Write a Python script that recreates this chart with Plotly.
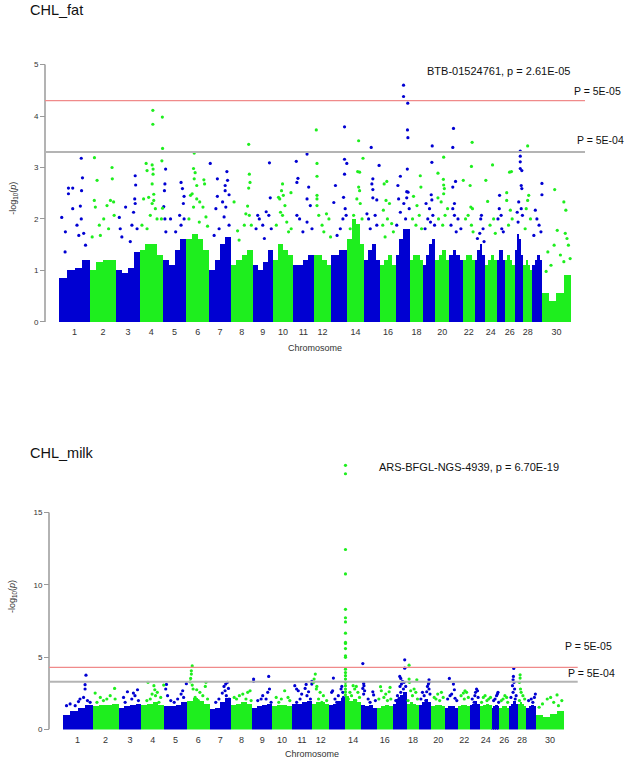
import plotly.graph_objects as go

# ---------------- data ----------------
CHROMS = list(range(1, 31))
CHROM_LEN_MB = [158, 137, 121, 120, 121, 119, 112, 113, 105, 104, 107, 91, 84, 84, 85,
                81, 75, 66, 64, 72, 71, 61, 52, 62, 42, 51, 45, 46, 51, 148]
LABELLED_CHROMS = [1, 2, 3, 4, 5, 6, 7, 8, 9, 10, 11, 12, 14, 16, 18, 20, 22, 24, 26, 28, 30]

# dense cloud height (-log10 p) in 4 equal segments of each chromosome
FAT_BLOCK = [
    [0.85, 1.0, 1.05, 1.2], [1.0, 1.15, 1.2, 1.2], [1.0, 0.95, 1.05, 1.35], [1.4, 1.5, 1.5, 1.3],
    [1.2, 1.1, 1.4, 1.6], [1.6, 1.7, 1.6, 1.4], [1.0, 1.2, 1.5, 1.65], [1.1, 1.2, 1.3, 1.4],
    [1.1, 1.0, 1.15, 1.4], [1.2, 1.5, 1.4, 1.3], [1.1, 1.1, 1.2, 1.3], [1.3, 1.3, 1.2, 1.1],
    [1.3, 1.3, 1.4, 1.4], [1.6, 2.0, 1.9, 1.5], [1.2, 1.4, 1.5, 1.2], [1.1, 1.2, 1.3, 1.1],
    [1.3, 1.6, 1.8, 1.8], [1.2, 1.3, 1.3, 1.2], [1.1, 1.3, 1.5, 1.6], [1.2, 1.3, 1.4, 1.2],
    [1.3, 1.4, 1.3, 1.2], [1.2, 1.3, 1.3, 1.2], [1.2, 1.4, 1.5, 1.3], [1.1, 1.2, 1.3, 1.2],
    [1.2, 1.4, 1.4, 1.2], [1.2, 1.3, 1.2, 1.1], [1.4, 1.7, 1.6, 1.3], [1.1, 1.2, 1.1, 1.0],
    [1.1, 1.2, 1.3, 1.2], [0.55, 0.4, 0.55, 0.9],
]
# individual SNPs above the cloud: (relative position in chromosome, -log10 p)
FAT_PEAKS = [
    [(.08, 2.03), (.2, 1.75), (.19, 1.36), (.3, 2.49), (.3, 2.6), (.44, 2.6), (.44, 2.2), (.58, 1.88), (.69, 2.25),
     (.72, 3.18), (.76, 2.8), (.73, 2.55), (.72, 2.0), (.8, 1.72), (.64, 1.68), (.86, 1.49)],
    [(.175, 3.19), (.275, 2.75), (.17, 2.36), (.21, 2.23), (.36, 1.88), (.525, 2.0), (.65, 2.26), (.84, 3.0),
     (.85, 2.78), (.78, 2.36), (.9, 2.33), (.92, 2.07), (.71, 1.81), (.4, 1.68), (.09, 1.65)],
    [(.4, 2.23), (.13, 2.03), (.24, 1.65), (.17, 1.81), (.81, 2.84), (.83, 2.66), (.79, 2.39), (.81, 2.3),
     (.74, 2.13), (.67, 1.88), (.89, 1.81), (.6, 1.56)],
    [(.57, 4.11), (.98, 3.98), (.57, 3.84), (.99, 3.37), (.96, 3.13), (.99, 2.21), (.94, 2.0), (.28, 3.08),
     (.32, 2.94), (.54, 3.05), (.58, 2.97), (.58, 2.87), (.54, 2.68), (.39, 2.42), (.17, 2.39), (.61, 2.36),
     (.54, 2.3), (.68, 2.2), (.46, 2.07), (.75, 2.0), (.1, 1.88), (.32, 1.81), (.61, 2.48)],
    [(.12, 2.97), (.09, 2.68), (.07, 2.55), (.04, 2.24), (.09, 2.0), (.13, 1.75), (.78, 2.71), (.84, 2.59),
     (.91, 2.44), (.88, 2.3), (.72, 2.07), (.91, 2.0), (.78, 1.88), (.55, 1.75), (.33, 2.0)],
    [(.35, 3.28), (.32, 2.98), (.39, 2.9), (.77, 2.76), (.8, 2.68), (.26, 2.49), (.19, 2.46), (.46, 2.39),
     (.32, 2.23), (.59, 2.33), (.73, 2.23), (.86, 2.04), (.12, 2.0), (.57, 1.94), (.46, 2.65), (.35, 2.78),
     (.93, 1.86)],
    [(.05, 3.08), (.82, 2.92), (.85, 2.75), (.38, 2.78), (.38, 2.44), (.74, 2.65), (.74, 2.55), (.92, 2.47),
     (.62, 2.33), (.77, 2.23), (.31, 2.2), (.69, 2.04), (.92, 1.88), (.46, 1.81), (.23, 1.68)],
    [(.82, 3.45), (.85, 2.87), (.82, 2.6), (.88, 2.71), (.77, 2.25), (.69, 2.1), (.85, 2.07), (.31, 1.77),
     (.38, 1.59), (.62, 1.88), (.15, 2.33), (.94, 1.88)],
    [(.83, 3.09), (.87, 2.41), (.67, 2.14), (.8, 2.07), (.25, 2.07), (.33, 2.0), (.5, 1.88), (.17, 1.81),
     (.92, 1.81), (.58, 1.62)],
    [(.48, 2.68), (.43, 2.55), (.28, 2.42), (.34, 2.39), (.52, 2.46), (.6, 2.26), (.38, 2.13), (.48, 2.07),
     (.17, 1.88), (.69, 1.94), (.9, 2.51), (.78, 1.75), (.91, 1.81)],
    [(.68, 3.26), (.16, 3.12), (.24, 2.79), (.19, 2.71), (.76, 2.62), (.19, 2.07), (.32, 2.0), (.68, 2.39),
     (.84, 2.26), (.68, 1.94), (.92, 1.81), (.48, 1.75)],
    [(.15, 3.73), (.19, 3.08), (.19, 2.83), (.19, 2.46), (.19, 2.39), (.19, 2.26), (.29, 2.07), (.48, 1.88),
     (.73, 2.1), (.87, 2.0), (.58, 1.75), (.96, 1.65)],
    [(.82, 3.79), (.82, 3.16), (.96, 3.08), (.82, 2.87), (.26, 2.65), (.16, 2.32), (.76, 2.42), (.86, 2.2),
     (.72, 2.0), (.56, 1.81), (.36, 1.68), (.92, 2.07)],
    [(.69, 3.52), (.96, 3.18), (.63, 2.92), (.75, 2.91), (.69, 2.62), (.75, 2.55), (.58, 2.39), (.79, 2.3),
     (.38, 2.07), (.9, 2.0), (.17, 1.81)],
    [(.46, 3.39), (.94, 3.04), (.56, 2.78), (.56, 2.57), (.56, 2.41), (.8, 2.37), (.5, 2.68), (.2, 2.1),
     (.3, 2.0), (.7, 2.07), (.8, 1.88), (.4, 1.81)],
    [(.43, 2.73), (.26, 2.68), (.38, 2.36), (.6, 2.3), (.21, 2.17), (.47, 2.0), (.17, 1.88), (.74, 1.91),
     (.85, 1.75), (.32, 1.65)],
    [(.54, 4.6), (.54, 4.38), (.83, 4.25), (.81, 3.73), (.84, 3.58), (.8, 2.97), (.32, 2.83), (.15, 2.65),
     (.76, 2.53), (.85, 2.52), (.76, 2.41), (.2, 2.39), (.56, 2.3), (.32, 2.13), (.93, 2.2), (.68, 2.0),
     (.07, 1.88)],
    [(.79, 2.84), (.84, 2.62), (.26, 2.44), (.53, 2.26), (.71, 2.07), (.18, 2.0), (.45, 1.88), (.89, 1.81)],
    [(.75, 3.42), (.72, 3.1), (.67, 2.47), (.72, 2.37), (.25, 2.3), (.53, 2.2), (.8, 2.07), (.61, 1.94),
     (.39, 2.0), (.17, 1.81), (.94, 1.88)],
    [(.6, 3.2), (.19, 2.89), (.58, 2.77), (.6, 2.66), (.65, 2.59), (.6, 2.49), (.19, 2.41), (.42, 2.33),
     (.88, 2.2), (.7, 2.07), (.23, 2.0), (.53, 1.88)],
    [(.31, 3.76), (.26, 3.39), (.26, 2.62), (.46, 2.73), (.38, 2.3), (.26, 2.2), (.38, 2.07), (.64, 2.0),
     (.13, 1.88), (.85, 1.81), (.51, 1.75)],
    [(.78, 3.49), (.72, 3.02), (.03, 2.75), (.61, 2.65), (.67, 2.23), (.81, 2.2), (.44, 2.07), (.22, 2.0),
     (.72, 1.88), (.86, 1.75)],
    [(.67, 2.07), (.6, 2.0), (.83, 1.81), (.5, 1.72), (.27, 1.62), (.93, 1.56)],
    [(.65, 3.05), (.09, 2.75), (.24, 2.34), (.44, 1.88), (.74, 2.0), (.88, 1.72)],
    [(.35, 2.46), (.31, 2.2), (.54, 2.07), (.62, 1.81), (.81, 1.75), (.15, 2.0)],
    [(.67, 2.92), (.48, 2.91), (.19, 2.51), (.19, 2.36), (.56, 2.17), (.74, 2.0), (.37, 1.88)],
    [(.64, 3.32), (.64, 3.22), (.64, 3.11), (.64, 2.98), (.82, 2.94), (.75, 2.65), (.82, 2.59), (.46, 2.33),
     (.75, 2.2), (.29, 2.13), (.89, 2.07), (.39, 1.94)],
    [(.48, 3.42), (.6, 2.46), (.48, 2.36), (.32, 2.2), (.8, 2.0), (.2, 1.81)],
    [(.98, 2.69), (.98, 2.47), (.31, 2.17), (.47, 2.0), (.69, 1.88), (.88, 1.75), (.16, 1.68)],
    [(.44, 2.57), (.76, 2.33), (.83, 2.17), (.53, 1.78), (.81, 1.72), (.87, 1.62), (.92, 1.49), (.2, 1.36),
     (.42, 1.49), (.64, 1.3), (.31, 1.1), (.98, 1.23), (.14, 0.98), (.76, 1.17)],
]

MILK_BLOCK = [
    [1.0, 1.3, 1.5, 1.7], [1.6, 1.7, 1.7, 1.8], [1.5, 1.6, 1.7, 1.8], [1.7, 1.8, 1.9, 1.7],
    [1.6, 1.6, 1.7, 1.9], [2.0, 2.2, 2.0, 1.8], [1.4, 1.5, 1.9, 2.2], [1.7, 1.8, 1.9, 1.8],
    [1.5, 1.6, 1.7, 1.8], [1.6, 1.7, 1.7, 1.6], [1.8, 1.8, 1.9, 2.0], [1.8, 1.9, 1.9, 1.8],
    [1.7, 1.8, 2.0, 2.2], [2.3, 2.0, 2.1, 1.9], [1.7, 1.6, 1.7, 1.5], [1.5, 1.6, 1.7, 1.6],
    [1.8, 2.1, 2.4, 2.6], [1.8, 1.9, 1.8, 1.7], [1.7, 1.9, 2.1, 1.9], [1.6, 1.7, 1.7, 1.6],
    [1.5, 1.6, 1.6, 1.5], [1.6, 1.7, 1.7, 1.6], [1.7, 1.8, 2.0, 1.8], [1.6, 1.7, 1.8, 1.7],
    [1.5, 1.6, 1.7, 1.6], [1.5, 1.6, 1.6, 1.5], [1.6, 1.8, 2.0, 1.8], [1.8, 1.9, 1.8, 1.6],
    [1.5, 1.6, 1.7, 1.6], [1.0, 0.9, 1.1, 1.3],
]
MILK_PEAKS = [
    [(.78, 3.76), (.75, 3.1), (.75, 2.8), (.7, 2.22), (.58, 2.11), (.83, 2.0), (.53, 1.93), (.25, 1.77),
     (.42, 1.65), (.92, 1.88), (.13, 1.65)],
    [(.85, 2.84), (.1, 2.52), (.68, 2.34), (.55, 2.11), (.3, 2.22), (.87, 2.11), (.42, 2.0), (.17, 1.88)],
    [(.39, 2.61), (.83, 2.75), (.65, 2.52), (.72, 2.34), (.58, 2.11), (.22, 2.22), (.29, 1.88), (.87, 2.0)],
    [(.29, 3.26), (.98, 3.07), (.55, 3.03), (.59, 2.75), (.7, 2.57), (.47, 2.45), (.62, 2.34), (.39, 2.11),
     (.85, 2.22), (.24, 2.0), (.77, 1.88)],
    [(.1, 3.12), (.07, 2.8), (.97, 3.17), (.81, 2.68), (.74, 2.45), (.85, 2.22), (.59, 2.11), (.15, 2.34),
     (.29, 2.0), (.44, 1.88)],
    [(.23, 4.4), (.19, 4.06), (.19, 3.83), (.16, 3.53), (.14, 3.3), (.23, 3.07), (.27, 2.8), (.84, 3.26),
     (.81, 2.98), (.43, 2.75), (.57, 2.57), (.7, 2.34), (.36, 2.22), (.91, 2.11), (.5, 2.0)],
    [(.84, 3.26), (.76, 3.14), (.68, 2.98), (.89, 2.84), (.73, 2.68), (.6, 2.52), (.79, 2.34), (.44, 2.11),
     (.92, 2.11), (.29, 1.88)],
    [(.9, 2.68), (.79, 2.57), (.56, 2.45), (.4, 2.34), (.16, 2.22), (.71, 2.11), (.27, 2.11), (.95, 2.0)],
    [(.07, 3.49), (.07, 3.33), (.83, 3.67), (.87, 2.8), (.78, 2.57), (.53, 2.34), (.45, 2.11), (.7, 2.11),
     (.28, 2.0), (.95, 1.88)],
    [(.64, 2.68), (.21, 2.22), (.47, 2.11), (.81, 2.22), (.9, 2.0), (.34, 1.88)],
    [(.15, 3.03), (.24, 2.8), (.32, 2.68), (.71, 3.12), (.66, 2.84), (.83, 2.61), (.49, 2.45), (.75, 2.34),
     (.41, 2.11), (.92, 2.11), (.24, 1.88), (.99, 3.33), (.99, 3.14)],
    [(.19, 3.83), (.09, 3.26), (.28, 2.98), (.25, 2.8), (.47, 2.57), (.66, 2.34), (.38, 2.11), (.85, 2.0),
     (.57, 1.88), (.12, 3.49)],
    [(.26, 3.56), (.21, 2.68), (.15, 2.57), (.79, 2.98), (.74, 2.8), (.85, 2.57), (.57, 2.34), (.36, 2.11),
     (.89, 2.22), (.47, 1.88)],
    [(.02, 18.27), (.02, 17.69), (.02, 12.45), (.02, 10.76), (.02, 8.31), (.02, 7.73), (.02, 7.44),
     (.02, 6.66), (.02, 6.02), (.02, 5.95), (.02, 5.6), (.02, 5.1), (.02, 4.99), (.02, 4.17), (.02, 3.94),
     (.02, 3.72), (.02, 3.49), (.02, 3.26), (.02, 3.03), (.02, 2.8), (.02, 2.6), (.02, 2.4),
     (.5, 3.03), (.7, 2.98), (.6, 2.8), (.3, 2.57), (.8, 2.57), (.4, 2.34), (.9, 2.22), (.2, 2.11),
     (.66, 2.0)],
    [(.11, 4.56), (.16, 3.19), (.18, 3.03), (.11, 2.84), (.22, 2.68), (.16, 2.45), (.73, 2.61), (.78, 2.39),
     (.44, 2.11), (.89, 2.0), (.56, 1.88)],
    [(.22, 2.96), (.27, 2.68), (.84, 2.91), (.78, 2.61), (.56, 2.45), (.44, 2.22), (.11, 2.11), (.89, 2.11),
     (.67, 2.0)],
    [(.86, 4.82), (.86, 4.24), (.51, 3.67), (.58, 3.53), (.7, 3.33), (.63, 3.14), (.81, 3.26), (.53, 2.98),
     (.93, 2.98), (.77, 2.8), (.58, 2.57), (.35, 2.34), (.47, 2.16), (.23, 2.0)],
    [(.19, 4.45), (.19, 3.49), (.22, 3.26), (.81, 3.44), (.59, 2.8), (.32, 2.68), (.73, 2.57), (.46, 2.34),
     (.86, 2.11), (.11, 2.0)],
    [(.81, 3.44), (.81, 3.26), (.76, 3.14), (.68, 2.98), (.81, 2.8), (.62, 2.61), (.27, 2.57), (.41, 2.34),
     (.89, 2.45), (.14, 2.11), (.54, 2.0)],
    [(.74, 2.57), (.47, 2.45), (.21, 2.22), (.87, 2.22), (.34, 2.11), (.61, 2.0)],
    [(.33, 3.53), (.63, 3.14), (.7, 2.75), (.5, 2.45), (.38, 2.34), (.75, 2.16), (.2, 2.11), (.88, 2.0)],
    [(.57, 2.68), (.71, 2.57), (.43, 2.52), (.23, 2.34), (.86, 2.22), (.51, 2.11)],
    [(.67, 2.8), (.77, 2.68), (.57, 2.57), (.5, 2.34), (.83, 2.22), (.23, 2.11), (.43, 1.88)],
    [(.45, 2.34), (.3, 2.22), (.76, 2.11), (.61, 2.0), (.15, 1.88), (.91, 2.22)],
    [(.81, 2.57), (.74, 2.45), (.63, 2.34), (.44, 2.11), (.26, 2.0), (.89, 1.88)],
    [(.56, 2.34), (.37, 2.11), (.74, 2.22), (.19, 2.0), (.85, 1.88)],
    [(.54, 4.22), (.5, 3.67), (.46, 3.44), (.57, 3.26), (.39, 3.03), (.64, 2.8), (.46, 2.57), (.82, 2.34),
     (.21, 2.22), (.71, 2.11)],
    [(.28, 3.78), (.28, 3.56), (.2, 3.26), (.32, 2.8), (.4, 2.57), (.6, 2.34), (.8, 2.11), (.2, 2.0)],
    [(.93, 2.45), (.83, 2.22), (.5, 2.11), (.23, 2.0), (.67, 1.88)],
    [(.75, 2.39), (.52, 2.22), (.4, 2.11), (.92, 2.0), (.63, 1.88), (.23, 1.77), (.8, 1.65), (.11, 1.54)],
]

SIG_SUGGESTIVE = 3.3   # P = 5E-04
SIG_STRONG = 4.3       # P = 5E-05
FAT_Y_MAX = 5
MILK_Y_MAX = 15

BLUE = "#0000D2"
GREEN = "#1EEE1E"

# ---------------- figure ----------------
W, H = 625, 765
starts = []
acc = 0
for L in CHROM_LEN_MB:
    starts.append(acc)
    acc += L
TOTAL = acc
centers = [s + L / 2 for s, L in zip(starts, CHROM_LEN_MB)]
tick_vals = [centers[c - 1] for c in LABELLED_CHROMS]
tick_text = [str(c) for c in LABELLED_CHROMS]


def px(x):
    return x / W


def py(y):
    return 1 - y / H


fig = go.Figure()


def add_panel(block, peaks, xa, ya):
    for col_idx, color in ((0, BLUE), (1, GREEN)):
        bx, by, bw, sx, sy = [], [], [], [], []
        for i, c in enumerate(CHROMS):
            if i % 2 != col_idx:
                continue
            s, L = starts[i], CHROM_LEN_MB[i]
            n = len(block[i])
            for k, h in enumerate(block[i]):
                bx.append(s + (k + 0.5) * L / n)
                by.append(h)
                bw.append(L / n)
            for rel, v in peaks[i]:
                sx.append(s + rel * L)
                sy.append(v)
        fig.add_trace(go.Bar(x=bx, y=by, width=bw, marker=dict(color=color, line=dict(width=0)),
                             xaxis=xa, yaxis=ya, showlegend=False, hoverinfo="skip"))
        fig.add_trace(go.Scatter(x=sx, y=sy, mode="markers", cliponaxis=False,
                                 marker=dict(color=color, size=3.2, line=dict(width=0)),
                                 xaxis=xa, yaxis=ya, showlegend=False))


add_panel(FAT_BLOCK, FAT_PEAKS, "x", "y")
add_panel(MILK_BLOCK, MILK_PEAKS, "x2", "y2")

axis_font = dict(family="Liberation Sans, Arial, sans-serif", size=9, color="#333333")
common_x = dict(tickmode="array", tickvals=tick_vals, ticktext=tick_text, ticks="",
                showline=False, showgrid=False, zeroline=False, tickfont=axis_font,
                ticklabelstandoff=3)
common_y = dict(showline=False, ticks="outside", ticklen=5,
                tickcolor="#9a9a9a", tickwidth=1, showgrid=False, zeroline=False,
                tickfont=dict(family="Liberation Sans, Arial, sans-serif", size=8, color="#333333"))

# top panel: y=0 at 324 px, y=5 at 65 px ; bottom: y=0 at 734.3 px, y=15 at 516 px
top_ppu = (324 - 65) / 5.0
bot_ppu = (734.3 - 516) / 15.0
TOP_RANGE = 5.2
BOT_RANGE = 19.2

fig.update_layout(
    width=W, height=H, margin=dict(l=0, r=0, t=0, b=0),
    paper_bgcolor="white", plot_bgcolor="white",
    barmode="overlay", bargap=0,
    xaxis=dict(domain=[px(45), px(585)], range=[-74, TOTAL + 74], anchor="y", **common_x),
    yaxis=dict(domain=[py(324), py(324 - TOP_RANGE * top_ppu)], range=[0, TOP_RANGE],
               tickvals=[0, 1, 2, 3, 4, 5], anchor="free", position=px(45), **common_y),
    xaxis2=dict(domain=[px(49), px(577.7)], range=[-72, TOTAL + 72], anchor="y2", **common_x),
    yaxis2=dict(domain=[py(734.3), py(734.3 - BOT_RANGE * bot_ppu)], range=[0, BOT_RANGE],
                tickvals=[0, 5, 10, 15], anchor="free", position=px(49), **common_y),
)

# y-axis spines (R style: from first to last tick)
for xr, yr, ymax in (("x", "y", FAT_Y_MAX), ("x2", "y2", MILK_Y_MAX)):
    fig.add_shape(type="line", xref=f"{xr} domain", yref=yr, x0=0, x1=0, y0=0, y1=ymax,
                  line=dict(color="#9a9a9a", width=1.5))

# threshold lines
for xr, yr in (("x", "y"), ("x2", "y2")):
    fig.add_shape(type="line", xref=f"{xr} domain", yref=yr, x0=0, x1=1, y0=SIG_STRONG, y1=SIG_STRONG,
                  line=dict(color="#F08A8A", width=1.3), layer="above")
    fig.add_shape(type="line", xref=f"{xr} domain", yref=yr, x0=0, x1=1, y0=SIG_SUGGESTIVE,
                  y1=SIG_SUGGESTIVE, line=dict(color="#B4B4B4", width=2), layer="above")

txt_font = dict(family="Liberation Sans, Arial, sans-serif", size=10.5, color="#111111")
title_font = dict(family="Liberation Sans, Arial, sans-serif", size=14.5, color="#111111")
ann = [
    dict(text="CHL_fat", x=px(28), y=py(10), xanchor="left", yanchor="middle", font=title_font),
    dict(text="CHL_milk", x=px(28), y=py(456), xanchor="left", yanchor="middle", font=title_font),
    dict(text="BTB-01524761, p = 2.61E-05", x=px(425), y=py(71), xanchor="left", yanchor="middle",
         font=dict(txt_font, size=11)),
    dict(text="P = 5E-05", x=px(572), y=py(92), xanchor="left", yanchor="middle", font=txt_font),
    dict(text="P = 5E-04", x=px(575), y=py(141), xanchor="left", yanchor="middle", font=txt_font),
    dict(text="ARS-BFGL-NGS-4939, p = 6.70E-19", x=px(376.5), y=py(470.5), xanchor="left",
         yanchor="middle", font=dict(txt_font, size=11)),
    dict(text="P = 5E-05", x=px(562.5), y=py(650), xanchor="left", yanchor="middle", font=txt_font),
    dict(text="P = 5E-04", x=px(566), y=py(677), xanchor="left", yanchor="middle", font=txt_font),
    dict(text="Chromosome", x=px(315), y=py(350), xanchor="center", yanchor="middle", font=axis_font),
    dict(text="Chromosome", x=px(312), y=py(759), xanchor="center", yanchor="middle", font=axis_font),
    dict(text="-log<sub>10</sub>(<i>p</i>)", x=px(14), y=py(200), xanchor="center", yanchor="middle",
         textangle=-90, font=axis_font),
    dict(text="-log<sub>10</sub>(<i>p</i>)", x=px(12), y=py(600), xanchor="center", yanchor="middle",
         textangle=-90, font=axis_font),
]
for a in ann:
    a.update(xref="paper", yref="paper", showarrow=False)
fig.update_layout(annotations=ann)

fig.write_html("out.html", config={"displayModeBar": False},
               post_script="document.body.style.margin='0';document.body.style.overflow='hidden';")
